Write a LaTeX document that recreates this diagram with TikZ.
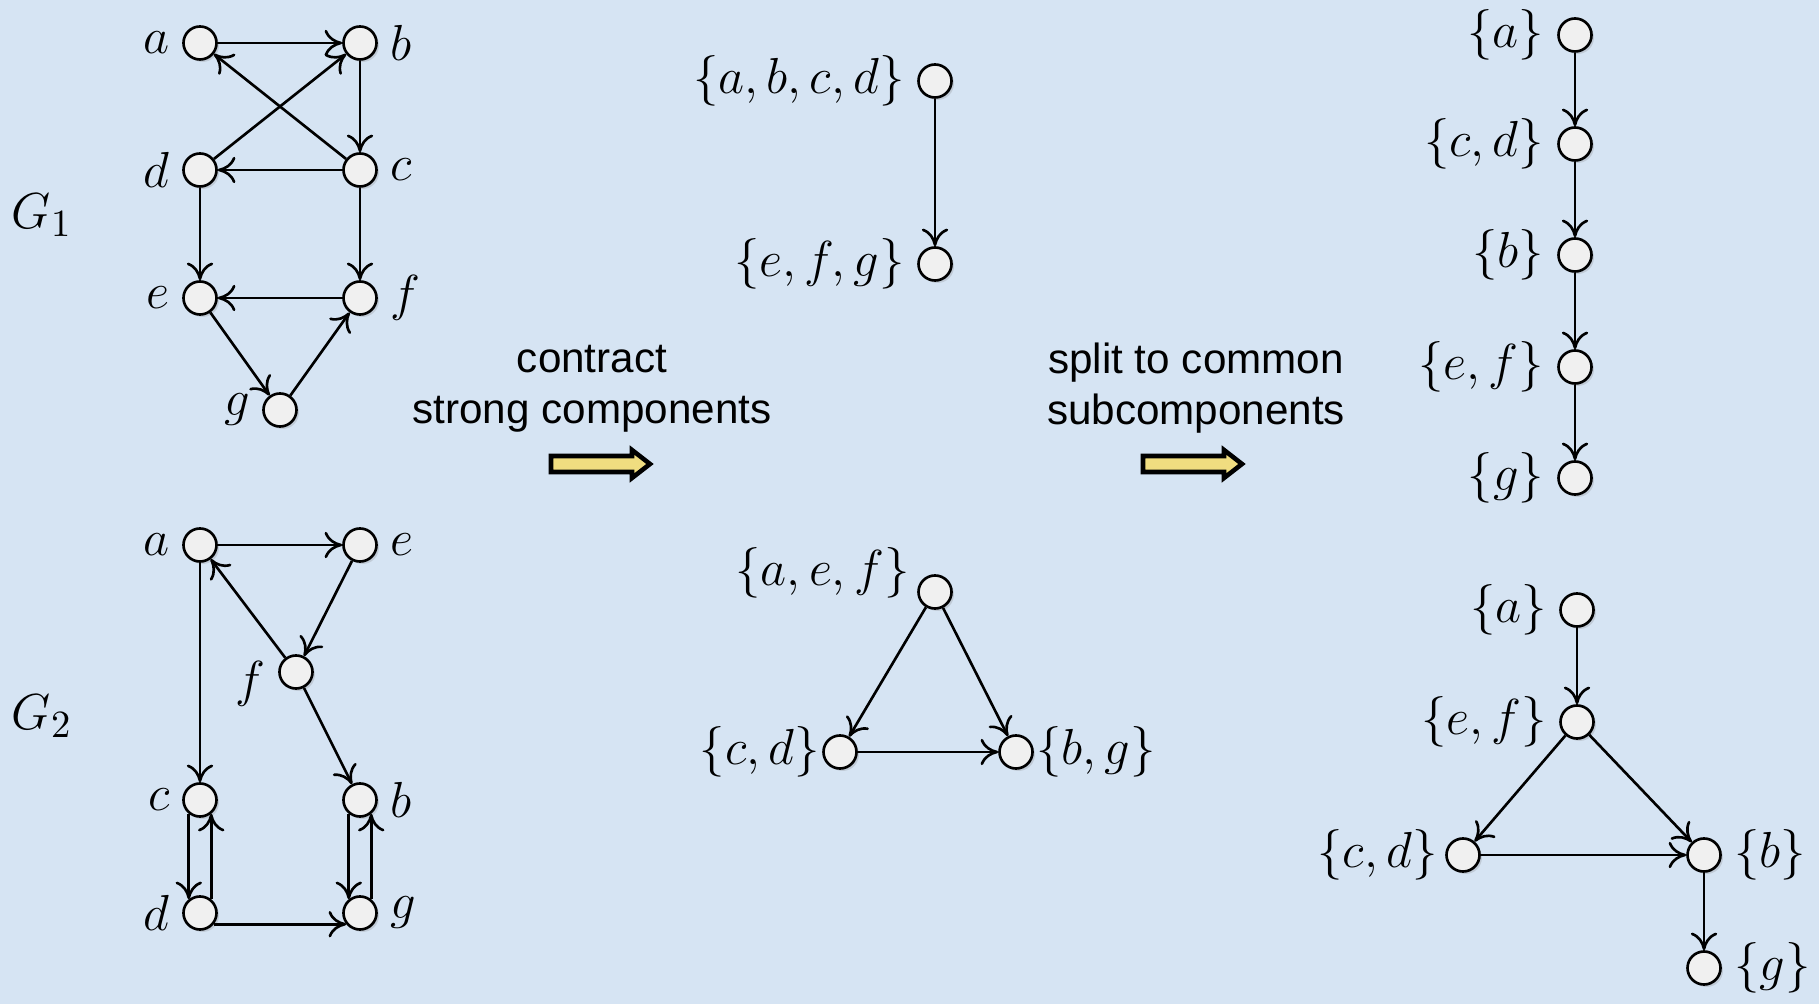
\documentclass[tikz,border=0pt]{standalone}
\usepackage{fontspec}
\newfontfamily\txtfont{Liberation Sans}
\usetikzlibrary{arrows.meta, shadows}
\definecolor{bgblue}{RGB}{214,228,243}
\definecolor{fatyellow}{RGB}{240,221,128}

\begin{document}
\begin{tikzpicture}[x=0.01cm, y=-0.01cm,
    font=\fontsize{15}{18}\selectfont,
    vx/.style={circle, draw, line width=0.75pt, fill=gray!12, minimum size=0.33cm, inner sep=0pt,
        drop shadow={opacity=0.25, shadow xshift=0.7pt, shadow yshift=-0.7pt}},
    rc/.style={label distance=0pt, every label/.style={inner sep=3.5pt}},
    ar/.style={-{To[length=5pt, width=7.5pt]}, line width=0.75pt},
    tx/.style={font=\txtfont\fontsize{12}{14.5}\selectfont, align=center},
    fat/.style={draw, line width=1.3pt, fill=fatyellow, line join=miter}]
\fill[bgblue] (0,0) rectangle (1819,1004);
\useasboundingbox (0,0) rectangle (1819,1004);

\node (G1) at (42,215) {$G_1$};
\node (G2) at (42,716) {$G_2$};

\node[vx, label=left:$a$] (a1) at (200,43) {};
\node[vx, label=right:$b$] (b1) at (360,43) {};
\node[vx, label=left:$d$] (d1) at (200,170) {};
\node[vx, label=right:$c$] (c1) at (360,170) {};
\node[vx, label=left:$e$] (e1) at (200,298) {};
\node[vx, label=right:$f$] (f1) at (360,298) {};
\node[vx, label=left:$g$] (g1) at (280,410) {};
\draw[ar] (a1) -- (b1);
\draw[ar] (c1) -- (a1);
\draw[ar] (d1) -- (b1);
\draw[ar] (b1) -- (c1);
\draw[ar] (c1) -- (d1);
\draw[ar] (d1) -- (e1);
\draw[ar] (c1) -- (f1);
\draw[ar] (f1) -- (e1);
\draw[ar] (e1) -- (g1);
\draw[ar] (g1) -- (f1);

\node[vx, label=left:$a$] (a2) at (200,545) {};
\node[vx, label=right:$e$] (e2) at (360,545) {};
\node[vx, label={[yshift=-3.5pt]left:$f$}] (f2) at (296,672) {};
\node[vx, label=left:$c$] (c2) at (200,800) {};
\node[vx, label=right:$b$] (b2) at (360,800) {};
\node[vx, label=left:$d$] (d2) at (200,913) {};
\node[vx, label=right:$g$] (g2) at (360,913) {};
\draw[ar] (a2) -- (e2);
\draw[ar] (e2) -- (f2);
\draw[ar] (f2) -- (a2);
\draw[ar] (a2) -- (c2);
\draw[ar] (f2) -- (b2);
\draw[ar] (c2.-129) -- (d2.129);
\draw[ar] (d2.51) -- (c2.-51);
\draw[ar] (b2.-129) -- (g2.129);
\draw[ar] (g2.51) -- (b2.-51);
\draw[ar] (d2.-39) -- (g2.-141);

\node[tx] (contr) at (592,389) {contract\\strong components};
\draw[fat] (551,456) -- (632,456) -- (632,450) -- (650,464) -- (632,478) -- (632,472) -- (551,472) -- cycle;
\node[tx] (split) at (1196,388) {split to common\\subcomponents};
\draw[fat] (1143,456) -- (1224,456) -- (1224,450) -- (1242,464) -- (1224,478) -- (1224,472) -- (1143,472) -- cycle;

\node[vx, label={left:$\{a,b,c,d\}$}] (abcd) at (935,81) {};
\node[vx, label={left:$\{e,f,g\}$}] (efg) at (935,264) {};
\draw[ar] (abcd) -- (efg);

\node[vx, label={[anchor=east, yshift=5.5pt, inner sep=2pt]180:$\{a,e,f\}$}] (aef) at (935,592) {};
\node[vx, label={[inner sep=0.5pt]left:$\{c,d\}$}] (cd) at (840,752) {};
\node[vx, label={[inner sep=0.5pt]right:$\{b,g\}$}] (bg) at (1016,752) {};
\draw[ar] (aef) -- (cd);
\draw[ar] (aef) -- (bg);
\draw[ar] (cd) -- (bg);

\begin{scope}[rc]
\node[vx, label={left:$\{a\}$}] (ra) at (1575,35) {};
\node[vx, label={left:$\{c,d\}$}] (rcd) at (1575,144) {};
\node[vx, label={left:$\{b\}$}] (rb) at (1575,255) {};
\node[vx, label={left:$\{e,f\}$}] (ref) at (1575,367) {};
\node[vx, label={left:$\{g\}$}] (rg) at (1575,478) {};
\end{scope}
\draw[ar] (ra) -- (rcd);
\draw[ar] (rcd) -- (rb);
\draw[ar] (rb) -- (ref);
\draw[ar] (ref) -- (rg);

\node[vx, label={left:$\{a\}$}] (sa) at (1577,610) {};
\node[vx, label={left:$\{e,f\}$}] (sef) at (1577,722) {};
\node[vx, label={[inner sep=2pt]left:$\{c,d\}$}] (scd) at (1463,855) {};
\node[vx, label={right:$\{b\}$}] (sb) at (1704,855) {};
\node[vx, label={right:$\{g\}$}] (sg) at (1704,968) {};
\draw[ar] (sa) -- (sef);
\draw[ar] (sef) -- (scd);
\draw[ar] (sef) -- (sb);
\draw[ar] (scd) -- (sb);
\draw[ar] (sb) -- (sg);
\end{tikzpicture}
\end{document}
